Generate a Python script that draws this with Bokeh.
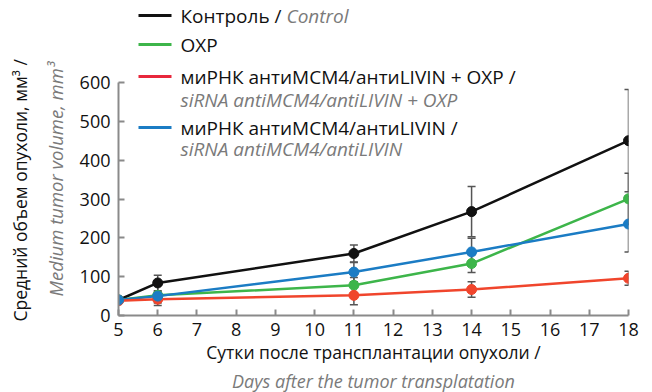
import math
from bokeh.plotting import figure
from bokeh.models import ColumnDataSource, Whisker, TeeHead, Label, BoxAnnotation, FixedTicker, Title
from bokeh.embed import file_html
from bokeh.resources import INLINE

days = [5, 6, 11, 14, 18]
control = [40, 84, 160, 268, 451]
oxp = [40, 52, 78, 134, 301]
combo = [38, 42, 52, 67, 96]
sirna = [40, 50, 112, 164, 236]
control_err = [0, 20, 22, 65, 132]
oxp_err = [0, 26, 20, 23, 66]
combo_err = [0, 10, 24, 20, 18]
sirna_err = [0, 12, 25, 35, 72]

x_ticks = list(range(5, 19))
y_ticks = [0, 100, 200, 300, 400, 500, 600]

names_ru = ["Контроль / ", "OXP", "миРНК антиМСМ4/антиLIVIN + OXP /", "миРНК антиМСМ4/антиLIVIN /"]
names_en = ["Control", "", "siRNA antiMCM4/antiLIVIN + OXP", "siRNA antiMCM4/antiLIVIN"]
y_title_ru = "Средний объем опухоли, мм³ /"
y_title_en = "Medium tumor volume, mm³"
x_title_ru = "Сутки после трансплантации опухоли /"
x_title_en = "Days after the tumor transplatation"

colors = ["#111111", "#3db54a", "#f0452c", "#1b7cc4"]
legend_colors = ["#111111", "#3db54a", "#e8283c", "#1b7cc4"]
series = [control, oxp, combo, sirna]
errors = [control_err, oxp_err, combo_err, sirna_err]

FONT = "Open Sans"
GRAY = "#7a7a7a"
W, H = 652, 392
p = figure(width=W, height=H, x_range=(5, 18), y_range=(0, 812.7),
           output_backend="svg", toolbar_location=None,
           min_border_left=118, min_border_right=24, min_border_top=0, min_border_bottom=76)
p.outline_line_color = None
p.xgrid.visible = False
p.ygrid.visible = False

for ax, ticks in ((p.xaxis, x_ticks), (p.yaxis, y_ticks)):
    ax.ticker = FixedTicker(ticks=ticks)
    ax.axis_line_color = "#8a8a8a"
    ax.axis_line_width = 2
    ax.major_tick_line_color = "#8a8a8a"
    ax.major_tick_line_width = 2
    ax.major_tick_in = 6
    ax.major_tick_out = 0
    ax.minor_tick_line_color = None
    ax.major_label_text_font = FONT
    ax.major_label_text_font_size = "18px"
    ax.major_label_text_color = "#111111"
p.yaxis.bounds = (0, 600)
p.xaxis.major_label_standoff = 7
p.yaxis.major_label_standoff = 8

p.xaxis.axis_label = x_title_ru
p.xaxis.axis_label_text_font = FONT
p.xaxis.axis_label_text_font_size = "17.5px"
p.xaxis.axis_label_text_font_style = "normal"
p.xaxis.axis_label_text_color = "#111111"
p.xaxis.axis_label_standoff = 1

# y titles as side titles (nearest first), aligned from the bottom of the frame
p.add_layout(Title(text=y_title_en, align="left", text_font=FONT, text_font_size="18.5px",
                   text_font_style="italic", text_color=GRAY, standoff=18, offset=19,
                   text_line_height=1.0), "left")
p.add_layout(Title(text=y_title_ru, align="left", text_font=FONT, text_font_size="17.5px",
                   text_font_style="normal", text_color="#111111", standoff=0, offset=-6,
                   text_line_height=1.0), "left")
p.add_layout(Title(text=x_title_en, align="center", text_font=FONT, text_font_size="18px",
                   text_font_style="italic", text_color=GRAY, standoff=0,
                   text_line_height=1.0), "below")

# error bars
for vals, errs in zip(series, errors):
    xs = [d for d, e in zip(days, errs) if e > 0]
    up = [v + e for v, e in zip(vals, errs) if e > 0]
    lo = [v - e for v, e in zip(vals, errs) if e > 0]
    src = ColumnDataSource(dict(x=xs, upper=up, lower=lo))
    w = Whisker(source=src, base="x", upper="upper", lower="lower", dimension="height",
                line_color="#555555", line_width=1.5,
                upper_head=TeeHead(size=8, line_color="#555555", line_width=1.5),
                lower_head=TeeHead(size=8, line_color="#555555", line_width=1.5))
    p.add_layout(w)

for idx in [0, 1, 3, 2]:
    p.line(days, series[idx], line_color=colors[idx], line_width=2.5)
for idx in [0, 1, 2, 3]:
    p.scatter(days, series[idx], size=10, fill_color=colors[idx], line_color=colors[idx])

# manual legend (screen units relative to the frame: x from left, y from bottom)
FL, FB = 118, 316  # frame left / bottom on the canvas


def L(px, py, text, color="#111111", italic=False, size="19px"):
    lab = Label(x=px - FL, y=FB - py, x_units="screen", y_units="screen", text=text,
                text_font=FONT, text_font_size=size, text_color=color,
                text_font_style="italic" if italic else "normal",
                text_baseline="middle", text_align="left")
    p.add_layout(lab)


line_rows = [16, 45, 77, 128]
for i, yy in enumerate(line_rows):
    b = BoxAnnotation(left=138 - FL, right=171 - FL, top=FB - yy + 1.5, bottom=FB - yy - 1.5,
                      left_units="screen", right_units="screen", top_units="screen", bottom_units="screen",
                      fill_color=legend_colors[i], fill_alpha=1, line_color=None)
    p.add_layout(b)
TX = 180
L(TX, 16, names_ru[0])
L(286, 16, names_en[0], color=GRAY, italic=True)
L(TX, 45, names_ru[1])
L(TX, 77, names_ru[2])
L(TX, 100, names_en[2], color=GRAY, italic=True)
L(TX, 128, names_ru[3])
L(TX, 149, names_en[3], color=GRAY, italic=True)

open("out.html", "w").write(file_html(p, INLINE))
